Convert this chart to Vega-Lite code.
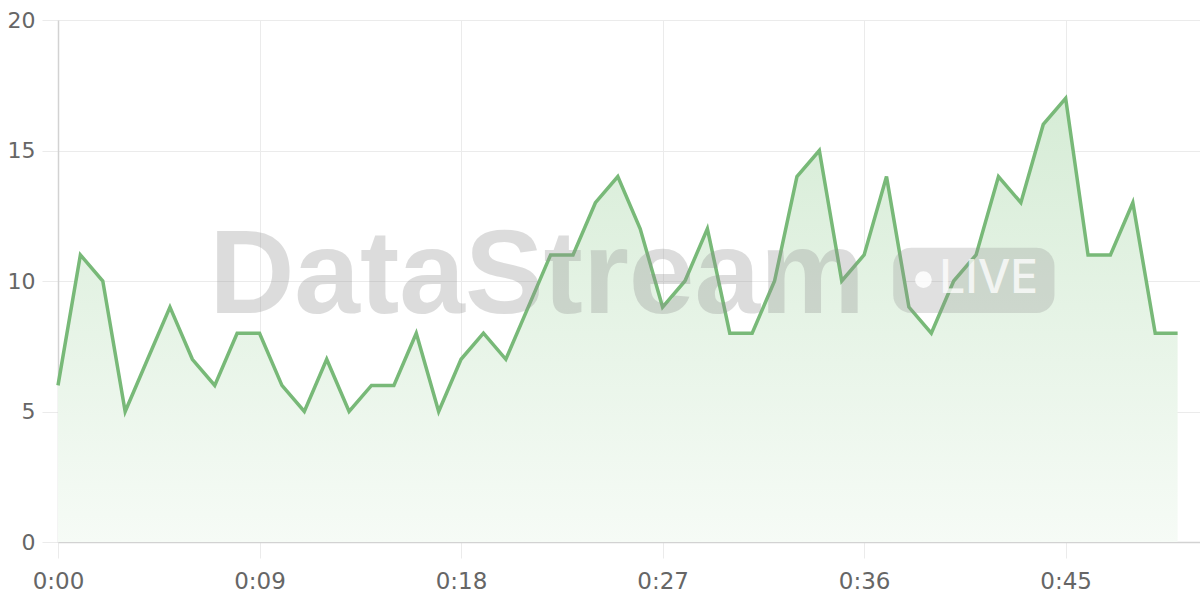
{
  "$schema": "https://vega.github.io/schema/vega-lite/v6.json",
  "width": 1142,
  "height": 522,
  "autosize": {"type": "none"},
  "padding": {"left": 58, "top": 20, "right": 0, "bottom": 58},
  "background": "white",
  "datasets": {
    "series": [
      {"t": 0, "v": 6}, {"t": 1, "v": 11}, {"t": 2, "v": 10}, {"t": 3, "v": 5},
      {"t": 4, "v": 7}, {"t": 5, "v": 9}, {"t": 6, "v": 7}, {"t": 7, "v": 6},
      {"t": 8, "v": 8}, {"t": 9, "v": 8}, {"t": 10, "v": 6}, {"t": 11, "v": 5},
      {"t": 12, "v": 7}, {"t": 13, "v": 5}, {"t": 14, "v": 6}, {"t": 15, "v": 6},
      {"t": 16, "v": 8}, {"t": 17, "v": 5}, {"t": 18, "v": 7}, {"t": 19, "v": 8},
      {"t": 20, "v": 7}, {"t": 21, "v": 9}, {"t": 22, "v": 11}, {"t": 23, "v": 11},
      {"t": 24, "v": 13}, {"t": 25, "v": 14}, {"t": 26, "v": 12}, {"t": 27, "v": 9},
      {"t": 28, "v": 10}, {"t": 29, "v": 12}, {"t": 30, "v": 8}, {"t": 31, "v": 8},
      {"t": 32, "v": 10}, {"t": 33, "v": 14}, {"t": 34, "v": 15}, {"t": 35, "v": 10},
      {"t": 36, "v": 11}, {"t": 37, "v": 14}, {"t": 38, "v": 9}, {"t": 39, "v": 8},
      {"t": 40, "v": 10}, {"t": 41, "v": 11}, {"t": 42, "v": 14}, {"t": 43, "v": 13},
      {"t": 44, "v": 16}, {"t": 45, "v": 17}, {"t": 46, "v": 11}, {"t": 47, "v": 11},
      {"t": 48, "v": 13}, {"t": 49, "v": 8}, {"t": 50, "v": 8}
    ],
    "watermark": [
      {"label": "DataStream", "badge": "LIVE", "tx": 6.75, "ty": 8.77, "bx": 37.3, "bx2": 44.5, "by": 11.27, "by2": 8.77, "dx": 38.65, "dy": 10.05, "lx": 39.35, "ly": 9.55}
    ]
  },
  "layer": [
    {
      "data": {"name": "series"},
      "mark": {
        "type": "area",
        "fill": {
          "gradient": "linear",
          "x1": 1, "y1": 1, "x2": 1, "y2": 0,
          "stops": [
            {"offset": 0, "color": "#f6fbf6"},
            {"offset": 1, "color": "#d6ecd6"}
          ]
        }
      },
      "encoding": {
        "x": {
          "field": "t",
          "type": "quantitative",
          "scale": {"domain": [0, 51], "nice": false, "zero": false},
          "axis": {
            "title": null,
            "values": [0, 9, 18, 27, 36, 45],
            "labelExpr": "floor(datum.value / 60) + ':' + (datum.value % 60 < 10 ? '0' : '') + (datum.value % 60)",
            "labelFlush": false,
            "grid": true,
            "gridColor": "#ebebeb",
            "domainColor": "#d2d2d2",
            "domainWidth": 1.5,
            "tickColor": "#ebebeb",
            "tickSize": 16,
            "labelPadding": 12,
            "labelFont": "DejaVu Sans",
            "labelFontSize": 23,
            "labelColor": "#666666"
          }
        },
        "y": {
          "field": "v",
          "type": "quantitative",
          "scale": {"domain": [0, 20], "nice": false},
          "axis": {
            "title": null,
            "values": [0, 5, 10, 15, 20],
            "grid": true,
            "gridColor": "#ebebeb",
            "domainColor": "#d2d2d2",
            "domainWidth": 1.5,
            "tickColor": "#ebebeb",
            "tickSize": 16,
            "labelPadding": 7,
            "labelFont": "DejaVu Sans",
            "labelFontSize": 22,
            "labelColor": "#666666"
          }
        }
      }
    },
    {
      "data": {"name": "series"},
      "mark": {"type": "line", "color": "#78b978", "strokeWidth": 3.5},
      "encoding": {
        "x": {"field": "t", "type": "quantitative"},
        "y": {"field": "v", "type": "quantitative"}
      }
    },
    {
      "data": {"name": "watermark"},
      "mark": {
        "type": "text",
        "font": "Liberation Sans",
        "fontWeight": "bold",
        "fontSize": 118,
        "align": "left",
        "baseline": "alphabetic",
        "color": "#8f8f8f",
        "opacity": 0.3
      },
      "encoding": {
        "x": {"field": "tx", "type": "quantitative"},
        "y": {"field": "ty", "type": "quantitative"},
        "text": {"field": "label"}
      }
    },
    {
      "data": {"name": "watermark"},
      "mark": {"type": "rect", "color": "#8f8f8f", "opacity": 0.28, "cornerRadius": 18},
      "encoding": {
        "x": {"field": "bx", "type": "quantitative"},
        "x2": {"field": "bx2"},
        "y": {"field": "by", "type": "quantitative"},
        "y2": {"field": "by2"}
      }
    },
    {
      "data": {"name": "watermark"},
      "mark": {"type": "point", "filled": true, "shape": "circle", "size": 280, "color": "#ffffff", "opacity": 0.85},
      "encoding": {
        "x": {"field": "dx", "type": "quantitative"},
        "y": {"field": "dy", "type": "quantitative"}
      }
    },
    {
      "data": {"name": "watermark"},
      "mark": {
        "type": "text",
        "font": "Inter",
        "fontWeight": 500,
        "fontSize": 46,
        "align": "left",
        "baseline": "alphabetic",
        "color": "#ffffff",
        "opacity": 0.75
      },
      "encoding": {
        "x": {"field": "lx", "type": "quantitative"},
        "y": {"field": "ly", "type": "quantitative"},
        "text": {"field": "badge"}
      }
    }
  ],
  "config": {"view": {"stroke": null}}
}
